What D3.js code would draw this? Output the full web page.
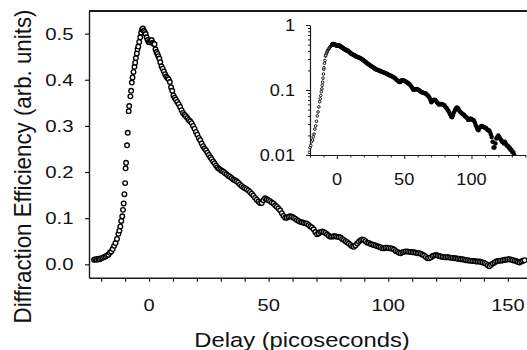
<!DOCTYPE html>
<html><head><meta charset="utf-8">
<script src="https://cdn.jsdelivr.net/npm/d3@7"></script>
<style>
html,body{margin:0;padding:0;background:#fff;}
svg{display:block;}
text{font-family:"Liberation Sans",Arial,Helvetica,sans-serif;fill:#111;}
</style></head><body>
<svg id="chart" width="527" height="350"></svg>
<script>
// ---- data ----
const delay = [
-23.0,-22.4,-21.8,-21.2,-20.6,-20.0,-19.4,-18.8,-18.2,-17.6,
-17.0,-16.4,-15.8,-15.2,-14.6,-14.0,-13.4,-12.8,-12.4,-12.0,
-11.6,-11.2,-10.9,-10.6,-10.3,-10.0,-9.8,-9.6,-9.2,-8.9,
-8.5,-8.3,-7.8,-7.5,-7.2,-6.9,-6.5,-6.1,-5.8,-5.5,
-5.1,-4.8,-4.5,-4.1,-3.7,-3.3,-2.9,-2.6,-2.2,-1.8,
-1.4,-1.0,-0.6,-0.2,0.3,0.7,1.1,1.5,1.9,2.3,
2.7,3.1,3.5,3.9,4.3,4.7,5.2,5.7,6.2,6.7,
7.2,7.7,8.2,8.7,9.2,9.7,10.2,10.7,11.2,11.8,
12.4,13.0,13.6,14.2,14.8,15.4,16.0,16.6,17.2,17.8,
18.4,19.0,19.6,20.2,20.8,21.4,22.0,22.6,23.2,23.8,
24.4,25.0,25.6,26.2,26.8,27.4,28.0,28.6,29.2,29.8,
30.4,31.0,31.7,32.4,33.1,33.8,34.5,35.2,35.9,36.6,
37.3,38.0,38.7,39.4,40.1,40.8,41.5,42.2,42.9,43.6,
44.3,45.0,45.7,46.4,47.1,47.8,48.5,49.2,49.9,50.6,
51.3,52.0,52.7,53.4,54.1,54.8,55.5,56.2,56.9,57.6,
58.3,59.0,59.7,60.4,61.1,61.8,62.5,63.2,63.9,64.6,
65.3,66.0,66.7,67.4,68.1,68.8,69.5,70.2,70.9,71.6,
72.3,73.0,73.7,74.4,75.1,75.8,76.5,77.2,77.9,78.6,
79.3,80.0,80.7,81.4,82.1,82.8,83.5,84.2,84.9,85.6,
86.3,87.0,87.7,88.4,89.1,89.8,90.5,91.2,91.9,92.6,
93.3,94.0,94.7,95.4,96.1,96.8,97.5,98.2,98.9,99.6,
100.3,101.0,101.7,102.4,103.1,103.8,104.5,105.2,105.9,106.6,
107.3,108.0,108.7,109.4,110.1,110.8,111.5,112.2,112.9,113.6,
114.3,115.0,115.7,116.4,117.1,117.8,118.5,119.2,119.9,120.6,
121.3,122.0,122.7,123.4,124.1,124.8,125.5,126.2,126.9,127.6,
128.3,129.0,129.7,130.4,131.1,131.8,132.5,133.2,133.9,134.6,
135.3,136.0,136.7,137.4,138.1,138.8,139.5,140.2,140.9,141.6,
142.3,143.0,143.7,144.4,145.1,145.8,146.5,147.2,147.9,148.6,
149.3,150.0,150.7,151.4,152.1,152.8,153.5,154.2,154.9,155.6,
156.3,157.0
];
const efficiency = [
0.010,0.011,0.010,0.012,0.011,0.013,0.014,0.016,0.017,0.019,
0.021,0.025,0.028,0.033,0.040,0.046,0.055,0.066,0.073,0.082,
0.094,0.104,0.118,0.132,0.152,0.176,0.208,0.220,0.258,0.285,
0.332,0.343,0.364,0.376,0.394,0.405,0.417,0.428,0.437,0.447,
0.457,0.466,0.472,0.482,0.492,0.502,0.509,0.511,0.506,0.503,
0.499,0.492,0.486,0.482,0.481,0.484,0.486,0.480,0.478,0.477,
0.466,0.460,0.456,0.451,0.446,0.438,0.429,0.424,0.418,0.412,
0.407,0.404,0.401,0.395,0.384,0.376,0.366,0.361,0.357,0.352,
0.347,0.341,0.334,0.328,0.324,0.321,0.317,0.313,0.310,0.306,
0.300,0.294,0.287,0.281,0.274,0.269,0.262,0.256,0.251,0.247,
0.242,0.237,0.232,0.228,0.223,0.219,0.214,0.210,0.207,0.205,
0.203,0.201,0.198,0.195,0.192,0.190,0.187,0.184,0.182,0.180,
0.177,0.173,0.170,0.167,0.165,0.163,0.160,0.157,0.153,0.149,
0.144,0.140,0.136,0.133,0.133,0.139,0.143,0.141,0.139,0.137,
0.134,0.132,0.128,0.125,0.121,0.117,0.111,0.105,0.101,0.101,
0.103,0.104,0.103,0.101,0.099,0.096,0.094,0.092,0.091,0.090,
0.089,0.088,0.085,0.082,0.080,0.076,0.070,0.065,0.067,0.070,
0.071,0.070,0.068,0.065,0.062,0.060,0.060,0.061,0.061,0.060,
0.059,0.058,0.055,0.053,0.050,0.048,0.045,0.042,0.039,0.038,
0.041,0.045,0.049,0.052,0.054,0.053,0.050,0.047,0.046,0.044,
0.043,0.042,0.041,0.039,0.038,0.037,0.035,0.035,0.036,0.036,
0.035,0.035,0.034,0.032,0.029,0.027,0.025,0.024,0.026,0.027,
0.028,0.028,0.027,0.027,0.026,0.026,0.025,0.024,0.024,0.023,
0.021,0.019,0.016,0.013,0.013,0.015,0.018,0.019,0.020,0.019,
0.018,0.017,0.016,0.016,0.015,0.016,0.015,0.014,0.014,0.013,
0.013,0.012,0.012,0.011,0.011,0.010,0.009,0.009,0.008,0.008,
0.007,0.007,0.006,0.006,0.006,0.005,0.004,0.003,0.001,-0.002,
-0.004,-0.001,0.002,0.004,0.006,0.007,0.008,0.008,0.009,0.010,
0.010,0.011,0.011,0.010,0.009,0.008,0.007,0.005,0.004,0.006,
0.008,0.009
];
const mainXTicks = [-20,-10,0,10,20,30,40,50,60,70,80,90,100,110,120,130,140,150];
const mainXLabels = [0,50,100,150];
const mainYTicks = [0.0,0.1,0.2,0.3,0.4,0.5];
const insetXTicks = [-20,-10,0,10,20,30,40,50,60,70,80,90,100,110,120,130,140];
const insetXLabels = [0,50,100];
const insetYMajor = [0.01,0.1,1];
const insetYMinor = [0.02,0.03,0.04,0.05,0.06,0.07,0.08,0.09,0.2,0.3,0.4,0.5,0.6,0.7,0.8,0.9];
const xTitle = "Delay (picoseconds)";
const yTitle = "Diffraction Efficiency (arb. units)";

const points = delay.map((d,i)=>({t:d, v:efficiency[i]}));

const svg = d3.select("#chart");
const ink = "#1a1a1a";

// ---- main plot ----
const x = d3.scaleLinear().domain([-25.1, 158.0]).range([89, 527]);
const y = d3.scaleLinear().domain([-0.029, 0.549]).range([277.7, 11]);

svg.append("defs").append("clipPath").attr("id","mainclip")
  .append("rect").attr("x",89).attr("y",11).attr("width",438).attr("height",267);

const gx = svg.append("g").attr("transform","translate(0,277.7)")
  .call(d3.axisBottom(x).tickValues(mainXTicks).tickSize(4).tickSizeOuter(0).tickFormat(""));
const gy = svg.append("g").attr("transform","translate(89,0)")
  .call(d3.axisLeft(y).tickValues(mainYTicks).tickSize(4).tickSizeOuter(0).tickFormat(""));
[gx,gy].forEach(g=>{
  g.select(".domain").attr("stroke",ink).attr("stroke-width",1.4);
  g.selectAll(".tick line").attr("stroke",ink).attr("stroke-width",1.2);
});
// top frame line
svg.append("line").attr("x1",x.range()[0]).attr("x2",x.range()[1])
  .attr("y1",y.range()[1]).attr("y2",y.range()[1])
  .attr("stroke",ink).attr("stroke-width",2.2);

function label(x0,y0,txt,size,sx,anchor){
  svg.append("text").attr("transform",`translate(${x0},${y0}) scale(${sx},1)`)
    .attr("text-anchor",anchor).attr("font-size",size).text(txt);
}
mainYTicks.forEach(v=>label(73.5, y(v)+6, d3.format(".1f")(v), 17, 1.2, "end"));
mainXLabels.forEach(v=>label(x(v), 310.5, String(v), 17, 1.18, "middle"));
label(302, 347, xTitle, 19.5, 1.22, "middle");
svg.append("text").attr("transform","translate(31,166.5) scale(1.1,1) rotate(-90)")
  .attr("text-anchor","middle").attr("font-size",22.3).text(yTitle);

svg.append("g").attr("clip-path","url(#mainclip)")
  .selectAll("circle").data(points).join("circle")
  .attr("cx",d=>x(d.t)).attr("cy",d=>y(d.v)).attr("r",2.3)
  .attr("fill","#fff").attr("stroke","#000").attr("stroke-width",1.35);

// ---- inset (log scale) ----
const xi = d3.scaleLinear().domain([-20,140]).range([310,525.3]);
const yi = d3.scaleLog().domain([0.01,1]).range([155,25]);

svg.select("defs").append("clipPath").attr("id","insetclip")
  .append("rect").attr("x",308).attr("y",23).attr("width",219).attr("height",132);

const gix = svg.append("g").attr("transform","translate(0,155)")
  .call(d3.axisBottom(xi).tickValues(insetXTicks).tickSize(3).tickSizeOuter(0).tickFormat(""));
gix.selectAll(".tick line").attr("y2",d=>insetXLabels.includes(d)?4:2.5);
const giy = svg.append("g").attr("transform","translate(310,0)")
  .call(d3.axisLeft(yi).tickValues(insetYMajor).tickSize(4).tickSizeOuter(0).tickFormat(""));
const giym = svg.append("g").attr("transform","translate(310,0)")
  .call(d3.axisLeft(yi).tickValues(insetYMinor).tickSize(2).tickSizeOuter(0).tickFormat(""));
giym.select(".domain").remove();
[gix,giy,giym].forEach(g=>{
  g.select(".domain").attr("stroke",ink).attr("stroke-width",1.2);
  g.selectAll(".tick line").attr("stroke",ink).attr("stroke-width",1);
});
insetYMajor.forEach(v=>label(295, yi(v)+6, String(v), 16.5, 1.1, "end"));
insetXLabels.forEach(v=>label(xi(v), 185, String(v), 16.5, 1.1, "middle"));

const insetPts = points.filter(d=>d.v>0.008 && d.t>=-21);
svg.append("g").attr("clip-path","url(#insetclip)")
  .selectAll("circle").data(insetPts).join("circle")
  .attr("cx",d=>xi(d.t)).attr("cy",d=>yi(d.v)).attr("r",d=>d.t<-4?1.3:1.7)
  .attr("fill",d=>d.t<-4?"#fff":"#000").attr("stroke","#000").attr("stroke-width",d=>d.t<-4?0.9:1.1);
</script>
</body></html>
